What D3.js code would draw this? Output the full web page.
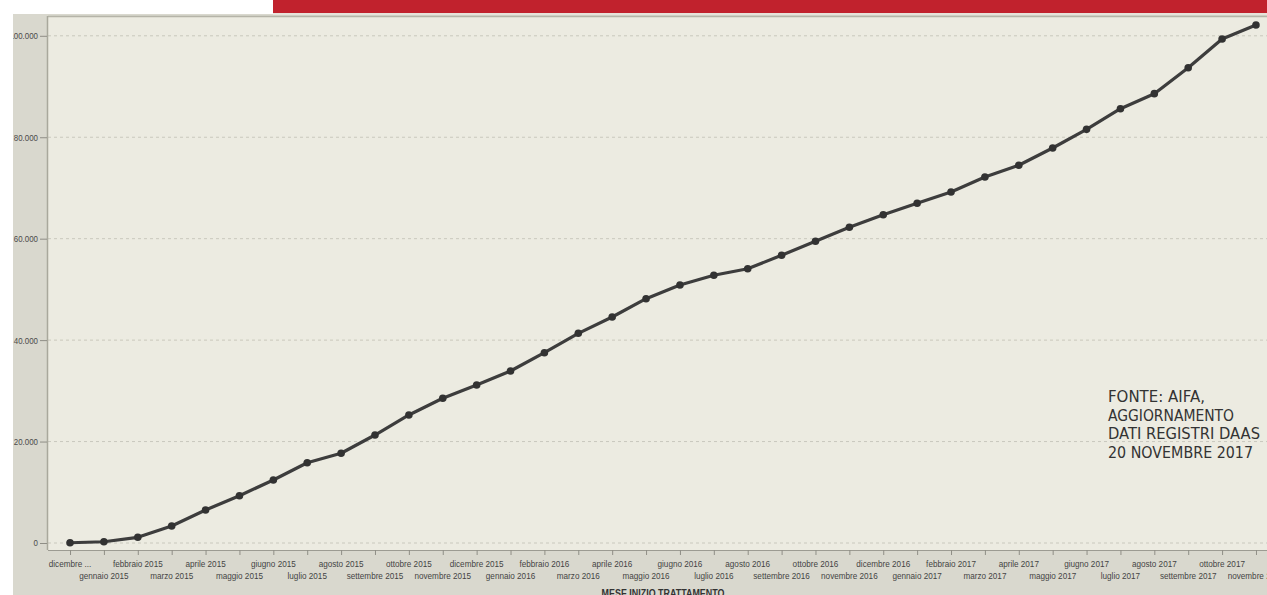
<!DOCTYPE html>
<html>
<head>
<meta charset="utf-8">
<script src="https://cdn.jsdelivr.net/npm/d3@7"></script>
<style>
  html, body { margin: 0; padding: 0; background: #ffffff; }
  svg { display: block; }
</style>
</head>
<body>
<svg id="chart" width="1267" height="595"></svg>
<script>
const months = [
  "dicembre ...", "gennaio 2015", "febbraio 2015", "marzo 2015", "aprile 2015", "maggio 2015",
  "giugno 2015", "luglio 2015", "agosto 2015", "settembre 2015", "ottobre 2015", "novembre 2015",
  "dicembre 2015", "gennaio 2016", "febbraio 2016", "marzo 2016", "aprile 2016", "maggio 2016",
  "giugno 2016", "luglio 2016", "agosto 2016", "settembre 2016", "ottobre 2016", "novembre 2016",
  "dicembre 2016", "gennaio 2017", "febbraio 2017", "marzo 2017", "aprile 2017", "maggio 2017",
  "giugno 2017", "luglio 2017", "agosto 2017", "settembre 2017", "ottobre 2017", "novembre 2017"
];
const patients = [
  50, 250, 1120, 3350, 6500, 9330,
  12420, 15830, 17690, 21290, 25240, 28530,
  31150, 33910, 37520, 41340, 44560, 48170,
  50870, 52780, 54080, 56720, 59480, 62240,
  64730, 66980, 69200, 72160, 74470, 77880,
  81560, 85630, 88590, 93710, 99370, 102130
];
const yTicks = [0, 20000, 40000, 60000, 80000, 100000];
const xTitle = "MESE INIZIO TRATTAMENTO";
const noteLines = ["FONTE: AIFA,", "AGGIORNAMENTO", "DATI REGISTRI DAAS", "20 NOVEMBRE 2017"];
const noteWidths = [97, 126, 152, 145];

const svg = d3.select("#chart");
const W = 1267, H = 595;
const plot = { left: 48, top: 16, right: 1278, bottom: 550 };

// red header bar
svg.append("rect").attr("x", 273).attr("y", 0).attr("width", W - 273).attr("height", 13).attr("fill", "#c1222d");
// outer grey panel
svg.append("rect").attr("x", 13).attr("y", 14).attr("width", W - 13).attr("height", H - 14).attr("fill", "#d9d8ce");
svg.append("rect").attr("x", 273).attr("y", 13).attr("width", W - 273).attr("height", 2).attr("fill", "#e6e3da");
// plot background
svg.append("rect").attr("x", plot.left).attr("y", plot.top).attr("width", plot.right - plot.left)
  .attr("height", plot.bottom - plot.top).attr("fill", "#ecebe1");

const x = d3.scalePoint().domain(months).range([plot.left, plot.right]).padding(0.65);
const y = d3.scaleLinear().domain([0, 100000]).range([543, 35.8]);

const fmt = v => d3.format(",")(v).replace(/,/g, ".");

// gridlines
svg.append("g").selectAll("line").data(yTicks).join("line")
  .attr("x1", plot.left).attr("x2", plot.right)
  .attr("y1", d => y(d)).attr("y2", d => y(d))
  .attr("stroke", "#c9c8bd").attr("stroke-width", 1).attr("stroke-dasharray", "3,3");

// plot borders
svg.append("line").attr("x1", plot.left).attr("x2", plot.right).attr("y1", plot.top + 0.5).attr("y2", plot.top + 0.5)
  .attr("stroke", "#b5b4a8").attr("stroke-width", 1.5);
svg.append("line").attr("x1", plot.left - 0.5).attr("x2", plot.left - 0.5).attr("y1", plot.top).attr("y2", plot.bottom)
  .attr("stroke", "#a9a89c").attr("stroke-width", 1.5);

// y axis
const yAxis = d3.axisLeft(y).tickValues(yTicks).tickSize(7).tickPadding(2).tickFormat(fmt);
const yg = svg.append("g").attr("transform", `translate(${plot.left - 1},0)`).call(yAxis);
yg.select(".domain").remove();
yg.selectAll(".tick line").attr("stroke", "#8f8e86");
yg.selectAll(".tick text")
  .attr("font-family", "'Liberation Sans', Arial, sans-serif").attr("font-size", 9)
  .attr("fill", "#4a4a4a")
  .attr("transform", function () { return `translate(${+d3.select(this).attr("x")},0) scale(0.88,1) translate(${-d3.select(this).attr("x")},0)`; });

// x axis
const xAxis = d3.axisBottom(x).tickSize(5).tickFormat("");
const xg = svg.append("g").attr("transform", `translate(0,${plot.bottom})`).call(xAxis);
xg.select(".domain").attr("stroke", "#9c9b92").attr("stroke-width", 1.2).attr("d", `M${plot.left},0.5H${plot.right}`);
xg.selectAll(".tick line").attr("stroke", "#8f8e86");

// x labels, staggered on two rows
svg.append("g").selectAll("text").data(months).join("text")
  .attr("transform", (d, i) => `translate(${x(d)},${i % 2 === 0 ? 567 : 578.5}) scale(0.85,1)`)
  .attr("text-anchor", "middle")
  .attr("font-family", "'Liberation Sans', Arial, sans-serif").attr("font-size", 9.6)
  .attr("fill", "#444")
  .text(d => d);

// x title
svg.append("text")
  .attr("transform", `translate(${(plot.left + plot.right) / 2},597) scale(0.85,1)`)
  .attr("text-anchor", "middle")
  .attr("font-family", "'Liberation Sans', Arial, sans-serif").attr("font-size", 10.5).attr("font-weight", "bold")
  .attr("fill", "#333")
  .text(xTitle);

// clip to panel (left white margin)
const defs = svg.append("defs");
defs.append("filter").attr("id", "soft").append("feGaussianBlur").attr("stdDeviation", 0.5);

// line
const line = d3.line().x((d, i) => x(months[i])).y(d => y(d));
svg.append("path").datum(patients)
  .attr("d", line).attr("fill", "none")
  .attr("stroke", "#3d3d3d").attr("stroke-width", 3.2).attr("stroke-linejoin", "round")
  .attr("filter", "url(#soft)");
svg.append("g").selectAll("circle").data(patients).join("circle")
  .attr("cx", (d, i) => x(months[i])).attr("cy", d => y(d)).attr("r", 3.8)
  .attr("fill", "#333").attr("filter", "url(#soft)");

// white left margin covering clipped label
svg.append("rect").attr("x", 0).attr("y", 0).attr("width", 13).attr("height", H).attr("fill", "#ffffff");

// source note
svg.append("g").selectAll("text").data(noteLines).join("text")
  .attr("x", 1108).attr("y", (d, i) => 402 + i * 18.7)
  .attr("font-family", "'DejaVu Sans', 'Liberation Sans', sans-serif").attr("font-size", 15)
  .attr("fill", "#333")
  .attr("textLength", (d, i) => noteWidths[i]).attr("lengthAdjust", "spacingAndGlyphs")
  .text(d => d);
</script>
</body>
</html>
